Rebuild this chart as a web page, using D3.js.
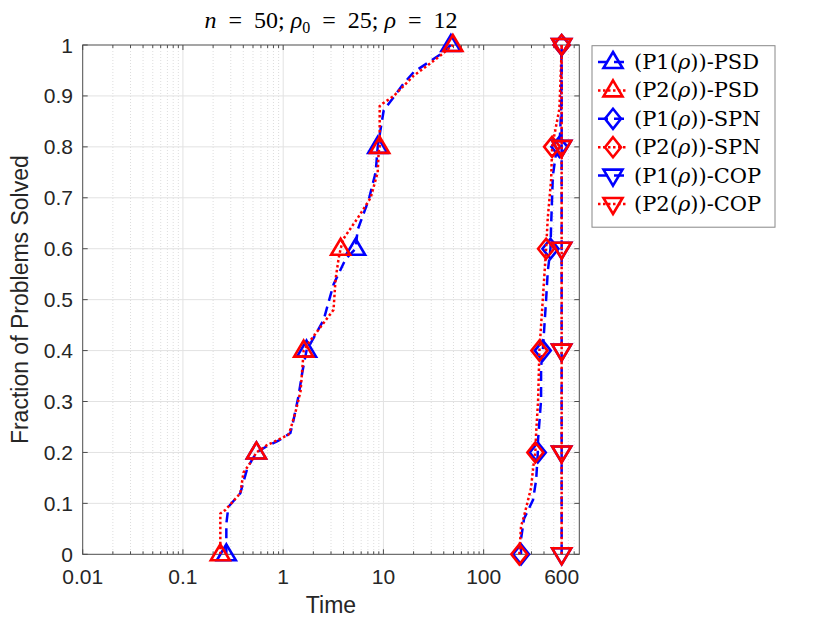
<!DOCTYPE html>
<html>
<head>
<meta charset="utf-8">
<script src="https://cdn.jsdelivr.net/npm/d3@7"></script>
<style>
  body { margin: 0; background: #fff; }
  svg { display: block; }
</style>
</head>
<body>
<div id="chart"></div>
<script>
// Performance profile data: solve time (s) vs fraction of problems solved.
var p1PsdT = [0.271, 0.271, 0.284, 0.374, 0.44, 0.541, 0.697, 0.898, 1.18, 1.27, 1.42, 1.56, 1.71, 2.53, 3.18, 4.2, 5.28, 5.53, 7.13, 8.37, 8.77, 10.07, 12.7, 16.0, 20.1, 27.7, 37.4, 47.1];
var p1PsdF = [0, 0.06, 0.093, 0.12, 0.17, 0.2, 0.213, 0.223, 0.238, 0.264, 0.31, 0.36, 0.4, 0.46, 0.53, 0.58, 0.6, 0.637, 0.696, 0.75, 0.8, 0.872, 0.898, 0.925, 0.947, 0.965, 0.982, 1];
var p2PsdT = [0.236, 0.236, 0.265, 0.374, 0.401, 0.471, 0.541, 0.697, 0.898, 1.13, 1.18, 1.33, 1.49, 1.56, 1.60, 1.87, 3.18, 3.33, 3.57, 3.74, 4.01, 5.53, 7.46, 8.77, 8.97, 9.18, 9.18, 9.84, 12.7, 20.1, 27.7, 37.4, 49.3];
var p2PsdF = [0, 0.08, 0.087, 0.12, 0.16, 0.18, 0.2, 0.215, 0.225, 0.235, 0.245, 0.28, 0.32, 0.37, 0.4, 0.42, 0.48, 0.54, 0.58, 0.6, 0.62, 0.66, 0.7, 0.75, 0.79, 0.8, 0.88, 0.885, 0.9, 0.94, 0.96, 0.98, 1];
var p1SpnT = [236, 236, 253, 311, 334, 347, 349, 374, 374, 389, 420, 436, 464, 471, 490, 528, 570, 593, 597, 600];
var p1SpnF = [0, 0.03, 0.07, 0.107, 0.146, 0.2, 0.225, 0.303, 0.368, 0.4, 0.5, 0.555, 0.6, 0.645, 0.743, 0.788, 0.8, 0.869, 0.967, 1];
var p2SpnT = [227, 236, 253, 297, 318, 328, 334, 349, 360, 389, 420, 436, 471, 482, 570, 593, 600];
var p2SpnF = [0, 0.055, 0.075, 0.13, 0.185, 0.2, 0.24, 0.3, 0.4, 0.5, 0.6, 0.66, 0.735, 0.8, 0.875, 0.965, 1];
var p1CopT = [600, 600];
var p1CopF = [0, 1];
var p2CopT = [600, 600];
var p2CopF = [0, 1];

// markers sit at every fifth of the problems
var markerF = [0, 0.2, 0.4, 0.6, 0.8, 1];
var p1PsdMk = [0.271, 0.541, 1.71, 5.28, 8.77, 47.1];
var p2PsdMk = [0.236, 0.541, 1.60, 3.74, 9.18, 49.3];
var p1SpnMk = [236, 347, 389, 464, 570, 600];
var p2SpnMk = [227, 328, 360, 420, 482, 600];
var p1CopMk = [600, 600, 600, 600, 600, 600];
var p2CopMk = [600, 600, 600, 600, 600, 600];

var xTicks = [0.01, 0.1, 1, 10, 100, 600];
var yTicks = [0, 0.1, 0.2, 0.3, 0.4, 0.5, 0.6, 0.7, 0.8, 0.9, 1];
var legendSolver = ["PSD", "PSD", "SPN", "SPN", "COP", "COP"];
var legendProblem = ["P1", "P2", "P1", "P2", "P1", "P2"];

var width = 830, height = 623,
    plotL = 82.7, plotR = 579.3, plotT = 45, plotB = 554.3;

var svg = d3.select("#chart").append("svg")
    .attr("width", width)
    .attr("height", height)
    .style("font-family", "'Liberation Sans', Arial, sans-serif");

svg.append("rect").attr("width", width).attr("height", height).attr("fill", "#fff");

var x = d3.scaleLog().domain([0.01, 900]).range([plotL, plotR]);
var y = d3.scaleLinear().domain([0, 1]).range([plotB, plotT]);

// minor log ticks (2..9 in each decade)
var minor = [];
[0.01, 0.1, 1, 10, 100].forEach(function (dec) {
    for (var k = 2; k <= 9; k++) if (dec * k < 900) minor.push(dec * k);
});

// grid
var grid = svg.append("g");
grid.selectAll(".xminor").data(minor).enter().append("line")
    .attr("x1", function (d) { return x(d); }).attr("x2", function (d) { return x(d); })
    .attr("y1", plotT).attr("y2", plotB)
    .attr("stroke", "#cfcfcf").attr("stroke-width", 0.7).attr("stroke-dasharray", "1,2");
grid.selectAll(".xmajor").data([0.1, 1, 10, 100]).enter().append("line")
    .attr("x1", function (d) { return x(d); }).attr("x2", function (d) { return x(d); })
    .attr("y1", plotT).attr("y2", plotB)
    .attr("stroke", "#e2e2e2").attr("stroke-width", 1);
grid.selectAll(".ymajor").data(yTicks.slice(1, -1)).enter().append("line")
    .attr("x1", plotL).attr("x2", plotR)
    .attr("y1", function (d) { return y(d); }).attr("y2", function (d) { return y(d); })
    .attr("stroke", "#e2e2e2").attr("stroke-width", 1);

// axes box and inward ticks
var ax = svg.append("g").attr("stroke", "#4d4d4d").attr("stroke-width", 1).attr("fill", "none");
ax.append("rect").attr("x", plotL).attr("y", plotT).attr("width", plotR - plotL).attr("height", plotB - plotT);
ax.selectAll(".mt").data(minor).enter().append("path")
    .attr("d", function (d) { return "M" + x(d) + "," + plotB + "v-3M" + x(d) + "," + plotT + "v3"; });
ax.selectAll(".xt").data(xTicks).enter().append("path")
    .attr("d", function (d) { return "M" + x(d) + "," + plotB + "v-5M" + x(d) + "," + plotT + "v5"; });
ax.selectAll(".yt").data(yTicks).enter().append("path")
    .attr("d", function (d) { return "M" + plotL + "," + y(d) + "h5M" + plotR + "," + y(d) + "h-5"; });

svg.append("g").selectAll("text").data(xTicks).enter().append("text")
    .attr("x", function (d) { return x(d); }).attr("y", 584)
    .attr("text-anchor", "middle").attr("font-size", 21).attr("fill", "#262626")
    .text(function (d) { return d; });
svg.append("g").selectAll("text").data(yTicks).enter().append("text")
    .attr("x", 73).attr("y", function (d) { return y(d) + 7.5; })
    .attr("text-anchor", "end").attr("font-size", 21).attr("fill", "#262626")
    .text(function (d) { return d; });

svg.append("text").attr("x", (plotL + plotR) / 2).attr("y", 613)
    .attr("text-anchor", "middle").attr("font-size", 23).attr("fill", "#262626").text("Time");
svg.append("text").attr("transform", "translate(28," + (plotT + plotB) / 2 + ") rotate(-90)")
    .attr("text-anchor", "middle").attr("font-size", 23).attr("fill", "#262626")
    .text("Fraction of Problems Solved");

// title (LaTeX-like spacing)
var title = svg.append("text").attr("x", (plotL + plotR) / 2).attr("y", 28)
    .attr("text-anchor", "middle").attr("font-size", 24)
    .style("white-space", "pre")
    .style("font-family", "'Liberation Serif', 'Times New Roman', serif");
title.append("tspan").attr("font-style", "italic").text("n");
title.append("tspan").text("  =  50; ");
title.append("tspan").attr("font-style", "italic").text("ρ");
title.append("tspan").attr("font-size", 16).attr("dy", 5).text("0");
title.append("tspan").attr("dy", -5).text("  =  25; ");
title.append("tspan").attr("font-style", "italic").text("ρ");
title.append("tspan").text("  =  12");

// markers
function marker(kind) {
    if (kind === "up") return "M0,-10L9.5,6L-9.5,6Z";
    if (kind === "down") return "M0,10L9.5,-6L-9.5,-6Z";
    return "M0,-10L8,0L0,10L-8,0Z";
}

var series = [
    { t: p1PsdT, f: p1PsdF, mk: p1PsdMk, color: "#0000ff", dash: "10,6", shape: "up" },
    { t: p2PsdT, f: p2PsdF, mk: p2PsdMk, color: "#ff0000", dash: "2.5,2.5", shape: "up" },
    { t: p1SpnT, f: p1SpnF, mk: p1SpnMk, color: "#0000ff", dash: "10,6", shape: "diamond" },
    { t: p2SpnT, f: p2SpnF, mk: p2SpnMk, color: "#ff0000", dash: "2.5,2.5", shape: "diamond" },
    { t: p1CopT, f: p1CopF, mk: p1CopMk, color: "#0000ff", dash: "10,6", shape: "down" },
    { t: p2CopT, f: p2CopF, mk: p2CopMk, color: "#ff0000", dash: "2.5,2.5", shape: "down" }
];

var line = d3.line()
    .x(function (d) { return x(d[0]); })
    .y(function (d) { return y(d[1]); });

var plot = svg.append("g");
series.forEach(function (s) {
    var pts = s.t.map(function (t, i) { return [t, s.f[i]]; });
    plot.append("path")
        .attr("d", line(pts))
        .attr("fill", "none")
        .attr("stroke", s.color)
        .attr("stroke-width", 2.5)
        .attr("stroke-dasharray", s.dash);
    plot.selectAll(null).data(s.mk.map(function (t, i) { return [t, markerF[i]]; }))
        .enter().append("path")
        .attr("transform", function (d) { return "translate(" + x(d[0]) + "," + y(d[1]) + ")"; })
        .attr("d", marker(s.shape))
        .attr("fill", "none")
        .attr("stroke", s.color)
        .attr("stroke-width", 2.6)
        .attr("stroke-linejoin", "miter");
});

// legend
var lg = svg.append("g");
lg.append("rect").attr("x", 592).attr("y", 45.7).attr("width", 183).attr("height", 181.5)
    .attr("fill", "#fff").attr("stroke", "#888").attr("stroke-width", 1);
var rows = lg.selectAll(".row").data(series).enter().append("g")
    .attr("transform", function (d, i) { return "translate(0," + (62 + i * 28.4) + ")"; });
rows.append("line").attr("x1", 598).attr("x2", 628)
    .attr("stroke", function (d) { return d.color; })
    .attr("stroke-width", 2.5)
    .attr("stroke-dasharray", function (d) { return d.dash; });
rows.append("path").attr("transform", "translate(613,0)")
    .attr("d", function (d) { return marker(d.shape); })
    .attr("fill", "none").attr("stroke", function (d) { return d.color; }).attr("stroke-width", 2.6);
var lt = rows.append("text").attr("x", 634).attr("y", 7)
    .attr("font-size", 21).attr("fill", "#000")
    .style("font-family", "'DejaVu Serif', serif");
lt.append("tspan").text(function (d, i) { return "(" + legendProblem[i] + "("; });
lt.append("tspan").attr("font-style", "italic").text("ρ");
lt.append("tspan").text(function (d, i) { return "))-" + legendSolver[i]; });
</script>
</body>
</html>
